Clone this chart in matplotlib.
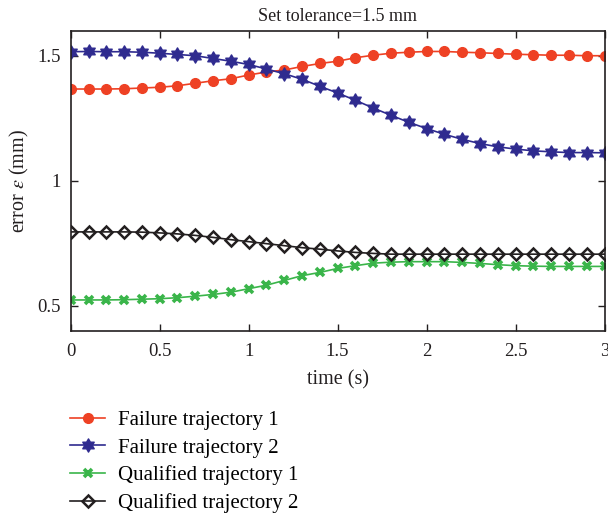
import numpy as np
import matplotlib
matplotlib.use("Agg")
import matplotlib.pyplot as plt
from matplotlib.path import Path

plt.rcParams['font.family'] = ['Liberation Serif', 'DejaVu Serif']
plt.rcParams['mathtext.fontset'] = 'stix'

time = [round(0.1 * i, 1) for i in range(31)]
failure1 = [1.367, 1.367, 1.367, 1.368, 1.371, 1.374, 1.380, 1.390, 1.400, 1.408,
            1.423, 1.435, 1.443, 1.457, 1.469, 1.478, 1.492, 1.502, 1.510, 1.514,
            1.517, 1.517, 1.514, 1.512, 1.509, 1.506, 1.504, 1.502, 1.502, 1.500, 1.500]
failure2 = [1.516, 1.517, 1.516, 1.516, 1.514, 1.510, 1.505, 1.500, 1.489, 1.478,
            1.465, 1.447, 1.428, 1.406, 1.378, 1.351, 1.322, 1.291, 1.262, 1.234,
            1.209, 1.186, 1.166, 1.149, 1.136, 1.127, 1.120, 1.116, 1.113, 1.113, 1.112]
qualified1 = [0.524, 0.524, 0.524, 0.525, 0.527, 0.529, 0.533, 0.539, 0.546, 0.555,
              0.569, 0.583, 0.602, 0.621, 0.634, 0.650, 0.661, 0.671, 0.675, 0.677,
              0.677, 0.677, 0.674, 0.670, 0.665, 0.661, 0.659, 0.658, 0.658, 0.658, 0.658]
qualified2 = [0.796, 0.796, 0.796, 0.796, 0.795, 0.792, 0.788, 0.782, 0.774, 0.765,
              0.757, 0.749, 0.741, 0.733, 0.727, 0.720, 0.714, 0.710, 0.707, 0.707,
              0.707, 0.707, 0.707, 0.707, 0.707, 0.707, 0.707, 0.707, 0.707, 0.707, 0.707]

labels = ["Failure trajectory 1", "Failure trajectory 2",
          "Qualified trajectory 1", "Qualified trajectory 2"]
xticks = [0, 0.5, 1, 1.5, 2, 2.5, 3]
xticklabels = ["0", "0.5", "1", "1.5", "2", "2.5", "3"]
yticks = [0.5, 1, 1.5]
yticklabels = ["0.5", "1", "1.5"]

# hexagram marker
ang_out = np.deg2rad(90 + 60 * np.arange(6))
ang_in = np.deg2rad(120 + 60 * np.arange(6))
r_in = 1 / np.sqrt(3)
verts = []
for ao, ai in zip(ang_out, ang_in):
    verts.append((np.cos(ao), np.sin(ao)))
    verts.append((r_in * np.cos(ai), r_in * np.sin(ai)))
verts.append(verts[0])
codes = [Path.MOVETO] + [Path.LINETO] * 11 + [Path.CLOSEPOLY]
hexagram = Path(verts, codes)

red = '#EE4124'
blue = '#2F2B8F'
green = '#3AB54A'
black = '#231F20'

fig = plt.figure(figsize=(6.08, 5.17), dpi=100)
ax = fig.add_axes([0.1163, 0.3598, 0.878, 0.5808])

ax.plot(time, failure1, color=red, lw=1.2, marker='o', ms=7, mfc=red, mec=red, label=labels[0])
ax.plot(time, failure2, color=blue, lw=1.2, marker=hexagram, ms=9.5, mfc=blue, mec=blue, label=labels[1])
ax.plot(time, qualified1, color=green, lw=1.2, marker='x', ms=5.5, mew=2.6, mfc=green, mec=green, label=labels[2])
ax.plot(time, qualified2, color=black, lw=1.2, marker='D', ms=6.5, mfc='none', mec=black, mew=1.8, label=labels[3])

ax.set_xlim(0, 3)
ax.set_ylim(0.4, 1.6)
ax.set_xticks(xticks)
ax.set_xticklabels(xticklabels)
ax.set_yticks(yticks)
ax.set_yticklabels(yticklabels)
ax.tick_params(direction='in', top=True, right=True, labelsize=13.5, length=5, width=1,
               colors='#231F20')
ax.tick_params(axis='x', pad=9)
ax.tick_params(axis='y', pad=7)
for s in ax.spines.values():
    s.set_linewidth(1.2)
    s.set_color('#231F20')

ax.set_title("Set tolerance=1.5 mm", fontsize=13, pad=7, color='#231F20')
ax.set_xlabel("time (s)", fontsize=14.5, labelpad=7, color='#231F20')
ax.set_ylabel(r"error $\varepsilon$ (mm)", fontsize=14.5, labelpad=5, color='#231F20')

handles, lbls = ax.get_legend_handles_labels()
fig.legend(handles, lbls, loc='upper left', bbox_to_anchor=(0.102, 0.222), frameon=False,
           fontsize=15, handlelength=1.65, labelspacing=0.38, handletextpad=0.62,
           borderaxespad=0)

fig.savefig("out.png", dpi=100)
